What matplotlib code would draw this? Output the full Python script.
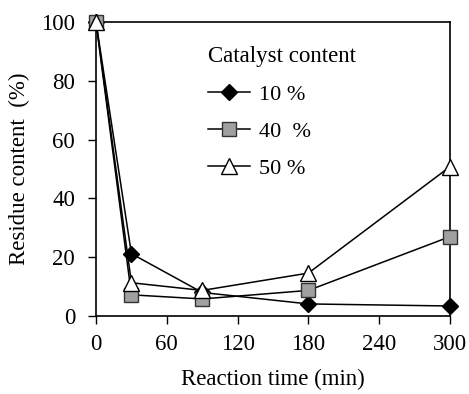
import matplotlib
matplotlib.use('Agg')
import matplotlib.pyplot as plt

# Data
time_min = [0, 30, 90, 180, 300]
cat_10 = [100, 21.2, 8.0, 4.1, 3.4]
cat_40 = [100, 7.2, 5.8, 8.7, 27.0]
cat_50 = [100, 11.3, 8.7, 14.6, 50.8]
labels = ['10 %', '40  %', '50 %']

plt.rcParams['font.family'] = ['Liberation Serif', 'DejaVu Serif']
plt.rcParams['font.size'] = 16.5

fig = plt.figure(figsize=(4.69, 3.94), dpi=100)
ax = fig.add_axes([0.2047, 0.198, 0.7548, 0.746])

ax.plot(time_min, cat_10, color='black', lw=1.1, marker='D', ms=8,
        mfc='black', mec='black', label=labels[0], zorder=3, clip_on=False)
ax.plot(time_min, cat_40, color='black', lw=1.1, marker='s', ms=10,
        mfc='#a0a0a0', mec='#333333', mew=1.0, label=labels[1], zorder=4,
        clip_on=False)
ax.plot(time_min, cat_50, color='black', lw=1.1, marker='^', ms=11,
        mfc='white', mec='black', mew=1.0, label=labels[2], zorder=5,
        clip_on=False)

ax.set_xlim(0, 300)
ax.set_ylim(0, 100)
ax.set_xticks([0, 60, 120, 180, 240, 300])
ax.set_yticks([0, 20, 40, 60, 80, 100])
ax.tick_params(direction='out', length=6, width=1)
ax.tick_params(axis='x', pad=7)
ax.tick_params(axis='y', pad=9)
for s in ax.spines.values():
    s.set_linewidth(1.2)

ax.set_xlabel('Reaction time (min)', labelpad=10)
ax.set_ylabel('Residue content  (%)', labelpad=8)

leg = ax.legend(title='Catalyst content', frameon=False, loc='upper left',
                bbox_to_anchor=(0.26, 0.985), handlelength=1.9,
                labelspacing=0.75, handletextpad=0.4, fontsize=16,
                title_fontsize=16.5)
leg._legend_box.align = 'left'

fig.savefig('out.png', dpi=100)
